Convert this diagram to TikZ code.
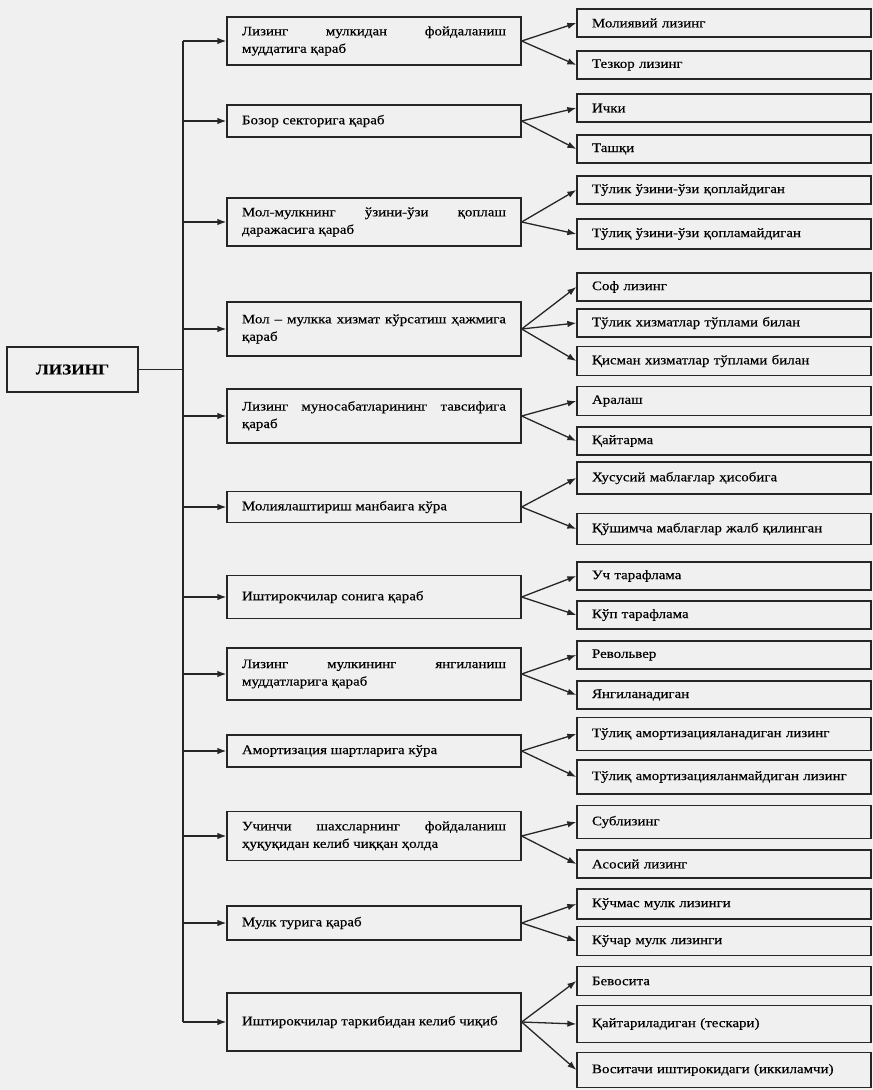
\documentclass[tikz,border=0pt]{standalone}
\usepackage{fontspec}
\setmainfont{Liberation Serif}[FakeStretch=1.15,FakeBold=0.35]
\usetikzlibrary{arrows.meta}
\tikzset{
  rt/.style={rectangle, draw, minimum width=131pt, minimum height=45pt, text centered, font=\fontsize{15}{18}\selectfont\bfseries},
  kr/.style={rectangle, draw, text width=264pt, inner xsep=15pt, minimum height=32pt, align=justify, font=\fontsize{13}{17.5}\selectfont},
  tp/.style={rectangle, draw, text width=264pt, inner xsep=15pt, minimum height=28pt, align=left, font=\fontsize{13}{17.5}\selectfont},
  >={Latex[length=9pt,width=6.5pt]}
}
\tolerance=10000
\hbadness=10000
\begin{document}
\begin{tikzpicture}[x=1pt,y=-1pt,line width=1.3pt,draw=black!85,text=black]
	\fill[black!6] (0,0) rectangle (873,1090);
	\useasboundingbox (0,0) rectangle (873,1090);
	\node[rt] (lizing) at (72.5,369.5) {ЛИЗИНГ};
	%
	\node[kr, minimum height=48pt] (muddat) at (374,41) {Лизинг мулкидан фойдаланиш\linebreak муддатига қараб};
	\node[kr] (bozor) at (374,121) {Бозор секторига қараб};
	\node[kr, minimum height=48pt] (qoplash) at (374,222) {Мол-мулкнинг ўзини-ўзи қоплаш\linebreak даражасига қараб};
	\node[kr, minimum height=54pt] (xizmat) at (374,329) {Мол – мулкка хизмат кўрсатиш ҳажмига\linebreak қараб};
	\node[kr, minimum height=54pt] (munosabat) at (374,416) {Лизинг муносабатларининг тавсифига\linebreak қараб};
	\node[kr, minimum height=31pt] (manba) at (374,507) {Молиялаштириш манбаига кўра};
	\node[kr, minimum height=43pt] (soni) at (374,597) {Иштирокчилар сонига қараб};
	\node[kr, minimum height=52pt] (yangi) at (374,674) {Лизинг мулкининг янгиланиш\linebreak муддатларига қараб};
	\node[kr] (amort) at (374,751) {Амортизация шартларига кўра};
	\node[kr, minimum height=49pt] (uchinchi) at (374,836) {Учинчи шахсларнинг фойдаланиш\linebreak ҳуқуқидан келиб чиққан ҳолда};
	\node[kr, minimum height=34pt] (mulk) at (374,923) {Мулк турига қараб};
	\node[kr, minimum height=58pt] (tarkib) at (374,1022) {Иштирокчилар таркибидан келиб чиқиб};
	%
	\node[tp] (moliyaviy) at (724,23) {Молиявий лизинг};
	\node[tp] (tezkor) at (724,65) {Тезкор лизинг};
	\node[tp] (ichki) at (724,108) {Ички};
	\node[tp] (tashqi) at (724,149) {Ташқи};
	\node[tp] (qoplay) at (724,190) {Тўлик ўзини-ўзи қоплайдиган};
	\node[tp, minimum height=30pt] (qoplamay) at (724,234) {Тўлиқ ўзини-ўзи қопламайдиган};
	\node[tp] (sof) at (724,287) {Соф лизинг};
	\node[tp] (tulik) at (724,323) {Тўлик хизматлар тўплами билан};
	\node[tp, minimum height=29pt] (qisman) at (724,361) {Қисман хизматлар тўплами билан};
	\node[tp, minimum height=29pt] (aralash) at (724,401) {Аралаш};
	\node[tp] (qaytarma) at (724,441) {Қайтарма};
	\node[tp, minimum height=32pt] (xususiy) at (724,478) {Хусусий маблағлар ҳисобига};
	\node[tp, minimum height=31pt] (qushimcha) at (724,529) {Қўшимча маблағлар жалб қилинган};
	\node[tp] (uch) at (724,576) {Уч тарафлама};
	\node[tp] (kup) at (724,615) {Кўп тарафлама};
	\node[tp] (revolver) at (724,655) {Револьвер};
	\node[tp] (yangilan) at (724,695) {Янгиланадиган};
	\node[tp, minimum height=33pt] (amtulik) at (724,734) {Тўлиқ амортизацияланадиган лизинг};
	\node[tp, minimum height=34pt] (amtulikmas) at (724,777) {Тўлиқ амортизацияланмайдиган лизинг};
	\node[tp, minimum height=33pt] (sub) at (724,822) {Сублизинг};
	\node[tp] (asosiy) at (724,864) {Асосий лизинг};
	\node[tp, minimum height=30pt] (kuchmas) at (724,904) {Кўчмас мулк лизинги};
	\node[tp, minimum height=29pt] (kuchar) at (724,941) {Кўчар мулк лизинги};
	\node[tp, minimum height=29pt] (bevosita) at (724,981) {Бевосита};
	\node[tp, minimum height=37pt] (qaytar) at (724,1024) {Қайтариладиган (тескари)};
	\node[tp, minimum height=35pt] (vositachi) at (724,1070) {Воситачи иштирокидаги (иккиламчи)};
	%
	\coordinate (bus) at (183,0);
	\draw (lizing) -- (lizing -| bus);
	\draw (bus |- muddat) -- (bus |- tarkib);
	\draw[->] (bus |- muddat) -- (muddat);
	\draw[->] (bus |- bozor) -- (bozor);
	\draw[->] (bus |- qoplash) -- (qoplash);
	\draw[->] (bus |- xizmat) -- (xizmat);
	\draw[->] (bus |- munosabat) -- (munosabat);
	\draw[->] (bus |- manba) -- (manba);
	\draw[->] (bus |- soni) -- (soni);
	\draw[->] (bus |- yangi) -- (yangi);
	\draw[->] (bus |- amort) -- (amort);
	\draw[->] (bus |- uchinchi) -- (uchinchi);
	\draw[->] (bus |- mulk) -- (mulk);
	\draw[->] (bus |- tarkib) -- (tarkib);
	%
	\draw[->] (muddat.east) -- (moliyaviy.west);
	\draw[->] (muddat.east) -- (tezkor.west);
	\draw[->] (bozor.east) -- (ichki.west);
	\draw[->] (bozor.east) -- (tashqi.west);
	\draw[->] (qoplash.east) -- (qoplay.west);
	\draw[->] (qoplash.east) -- (qoplamay.west);
	\draw[->] (xizmat.east) -- (sof.west);
	\draw[->] (xizmat.east) -- (tulik.west);
	\draw[->] (xizmat.east) -- (qisman.west);
	\draw[->] (munosabat.east) -- (aralash.west);
	\draw[->] (munosabat.east) -- (qaytarma.west);
	\draw[->] (manba.east) -- (xususiy.west);
	\draw[->] (manba.east) -- (qushimcha.west);
	\draw[->] (soni.east) -- (uch.west);
	\draw[->] (soni.east) -- (kup.west);
	\draw[->] (yangi.east) -- (revolver.west);
	\draw[->] (yangi.east) -- (yangilan.west);
	\draw[->] (amort.east) -- (amtulik.west);
	\draw[->] (amort.east) -- (amtulikmas.west);
	\draw[->] (uchinchi.east) -- (sub.west);
	\draw[->] (uchinchi.east) -- (asosiy.west);
	\draw[->] (mulk.east) -- (kuchmas.west);
	\draw[->] (mulk.east) -- (kuchar.west);
	\draw[->] (tarkib.east) -- (bevosita.west);
	\draw[->] (tarkib.east) -- (qaytar.west);
	\draw[->] (tarkib.east) -- (vositachi.west);
\end{tikzpicture}
\end{document}
